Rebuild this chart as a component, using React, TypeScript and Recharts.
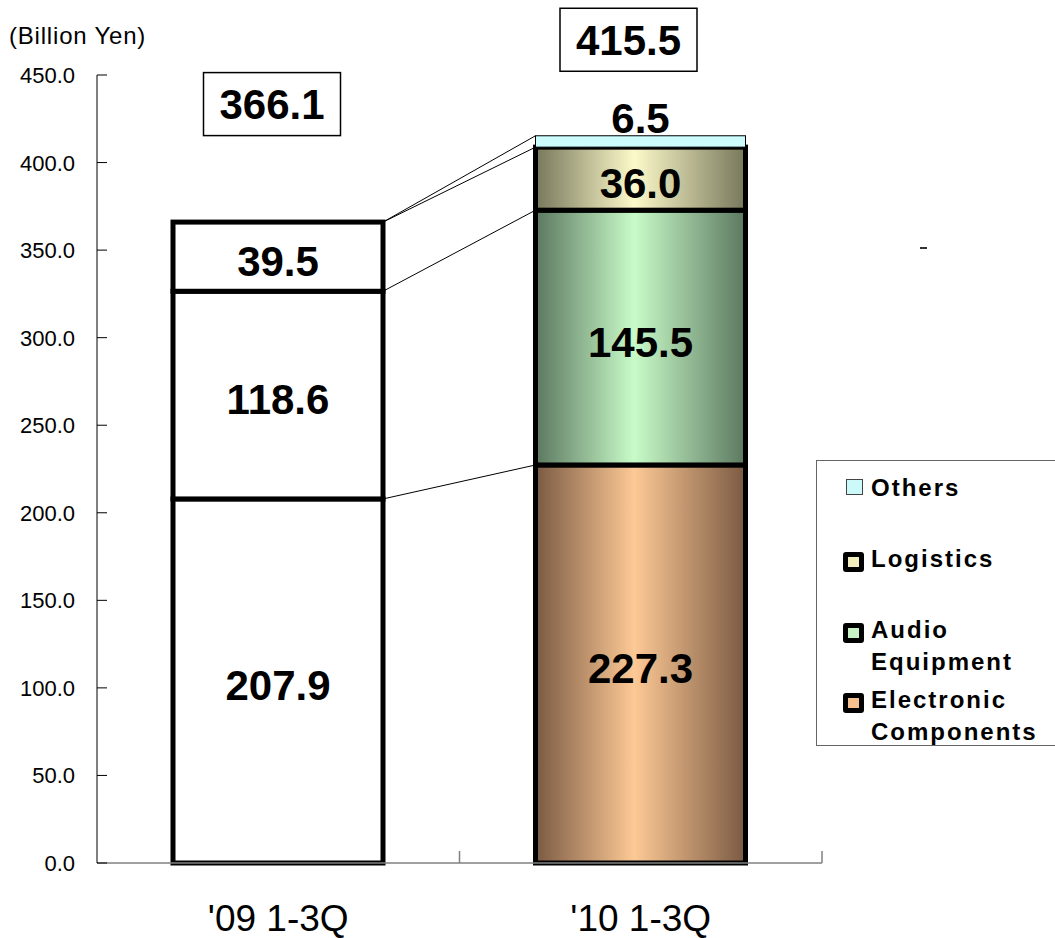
import React from 'react';
import { BarChart, Bar, XAxis, YAxis, LabelList } from 'recharts';

const categories = ["'09 1-3Q", "'10 1-3Q"];
const electronicComponents = [207.9, 227.3];
const audioEquipment = [118.6, 145.5];
const logistics = [39.5, 36.0];
const others = [0, 6.5];
const totals = [366.1, 415.5];
const yTicks = [0, 50, 100, 150, 200, 250, 300, 350, 400, 450];

const FONT = '"Liberation Sans", Arial, "Noto Sans CJK JP", sans-serif';

type SeriesDef = {
  key: string;
  lines: string[];
  values: number[];
  dark: string;
  light: string;
  legend: string;
  thick: boolean;
};

const seriesDefs: SeriesDef[] = [
  { key: 'electronic', lines: ['Electronic', 'Components'], values: electronicComponents, dark: '#7a5a43', light: '#fdc995', legend: '#f6c090', thick: true },
  { key: 'audio', lines: ['Audio', 'Equipment'], values: audioEquipment, dark: '#5c7860', light: '#c8fbc8', legend: '#c6f2c6', thick: true },
  { key: 'logistics', lines: ['Logistics'], values: logistics, dark: '#77775b', light: '#fcfaca', legend: '#f2eebe', thick: true },
  { key: 'others', lines: ['Others'], values: others, dark: '#ccfcfc', light: '#ccfcfc', legend: '#ccfafa', thick: false },
];

const data = categories.map((category, i) => {
  const row: Record<string, any> = { category };
  seriesDefs.forEach((s) => (row[s.key] = s.values[i]));
  return row;
});

let leftBarRight: number | null = null;

function makeShape(si: number) {
  return (props: any) => {
    const { x, y, width, height } = props;
    let ci = typeof props.index === 'number' ? props.index : categories.indexOf(props.payload?.category);
    if (ci < 0) ci = 0;
    if (ci === 0) leftBarRight = x + width;
    if (!(height > 0)) return <g />;
    const def = seriesDefs[si];
    if (ci === 0) {
      return <rect x={x} y={y} width={width} height={height} fill="#ffffff" stroke="#000" strokeWidth={5} />;
    }
    const v = def.values[ci];
    const ppu = height / v;
    let low = 0;
    for (let k = 0; k < si; k++) low += seriesDefs[k].values[ci];
    const baseline = y + height + low * ppu;
    let cumLeft = 0;
    for (let k = 0; k <= si; k++) cumLeft += seriesDefs[k].values[0];
    const yLeft = baseline - cumLeft * ppu;
    const xLeft = leftBarRight ?? x - width * 0.7;
    return (
      <g>
        <line x1={xLeft} y1={yLeft} x2={x} y2={y} stroke="#000" strokeWidth={1} />
        <rect
          x={x}
          y={y}
          width={width}
          height={height}
          fill={def.thick ? `url(#grad-${def.key})` : def.light}
          stroke="#000"
          strokeWidth={def.thick ? 5 : 1}
        />
      </g>
    );
  };
}

function makeValueLabel(si: number) {
  return (props: any) => {
    const { x, y, width, height, index } = props;
    const def = seriesDefs[si];
    const v = def.values[index];
    if (!v) return null;
    const cx = x + width / 2;
    const ty = def.key === 'others' ? y - 3 : y + height / 2 + 19;
    return (
      <text x={cx} y={ty} textAnchor="middle" fontFamily={FONT} fontWeight="bold" fontSize={42} fill="#000">
        {v.toFixed(1)}
      </text>
    );
  };
}

const TOTAL_OFFSET = [118, 96];
const TOTAL_SHIFT = [-6, -12];

const TotalLabel = (props: any) => {
  const { x, y, width, height, index } = props;
  const v = logistics[index];
  if (!v) return null;
  const ppu = height / v;
  const top = y - others[index] * ppu;
  const cx = x + width / 2 + TOTAL_SHIFT[index];
  const cy = top - TOTAL_OFFSET[index];
  const bw = 137;
  const bh = 63;
  return (
    <g>
      <rect x={cx - bw / 2} y={cy - bh / 2} width={bw} height={bh} fill="#fff" stroke="#000" strokeWidth={1.5} />
      <text x={cx} y={cy + 15} textAnchor="middle" fontFamily={FONT} fontWeight="bold" fontSize={42} fill="#000">
        {totals[index].toFixed(1)}
      </text>
    </g>
  );
};

const YTick = (props: any) => {
  const { x, y, payload } = props;
  return (
    <g>
      <text x={x} y={y} dy={8} textAnchor="end" fontFamily={FONT} fontSize={22} fill="#000">
        {Number(payload.value).toFixed(1)}
      </text>
      <line x1={x + 22} x2={x + 32} y1={y} y2={y} stroke="#000" strokeWidth={1} />
    </g>
  );
};

const XTick = (props: any) => {
  const { x, y, payload } = props;
  const half = payload?.offset;
  return (
    <g>
      <text x={x} y={y + 62} textAnchor="middle" fontFamily={FONT} fontSize={37} fill="#000">
        {payload.value}
      </text>
      {half ? <line x1={x + half} x2={x + half} y1={y - 6} y2={y - 18} stroke="#808080" strokeWidth={1.5} /> : null}
    </g>
  );
};

const legendOrder = [...seriesDefs].reverse();
const legendRowTops = [11, 82, 153, 223];

export default function App() {
  return (
    <div style={{ position: 'absolute', left: 0, top: 0, width: 1055, height: 938, background: '#fff' }}>
      <div
        style={{
          position: 'absolute',
          left: 9,
          top: 22,
          fontFamily: FONT,
          fontSize: 24,
          letterSpacing: 0.8,
          color: '#000',
          whiteSpace: 'nowrap',
        }}
      >
        (Billion Yen)
      </div>
      <BarChart
        width={1055}
        height={938}
        data={data}
        margin={{ top: 75, right: 233, bottom: 0, left: 0 }}
      >
        <defs>
          {seriesDefs
            .filter((s) => s.thick)
            .map((s) => (
              <linearGradient key={s.key} id={`grad-${s.key}`} x1="0" y1="0" x2="1" y2="0">
                <stop offset="0%" stopColor={s.dark} />
                <stop offset="47%" stopColor={s.light} />
                <stop offset="100%" stopColor={s.dark} />
              </linearGradient>
            ))}
        </defs>
        <XAxis
          dataKey="category"
          height={75}
          axisLine={{ stroke: '#808080', strokeWidth: 1.5 }}
          tickLine={false}
          tickSize={6}
          tickMargin={0}
          tick={<XTick />}
          interval={0}
        />
        <YAxis
          width={97}
          domain={[0, 450]}
          ticks={yTicks}
          interval={0}
          axisLine={{ stroke: '#000', strokeWidth: 1 }}
          tickLine={false}
          tickSize={6}
          tickMargin={16}
          tick={<YTick />}
        />
        {seriesDefs.map((s, si) => (
          <Bar
            key={s.key}
            dataKey={s.key}
            stackId="a"
            barSize={210}
            isAnimationActive={false}
            shape={makeShape(si)}
          >
            <LabelList dataKey={s.key} content={makeValueLabel(si)} />
            {s.key === 'logistics' ? <LabelList dataKey={s.key} content={<TotalLabel />} /> : null}
          </Bar>
        ))}
      </BarChart>
      <div
        style={{
          position: 'absolute',
          left: 920,
          top: 247,
          width: 7,
          height: 2,
          background: '#333',
        }}
      />
      <div
        style={{
          position: 'absolute',
          left: 816,
          top: 460,
          width: 245,
          height: 286,
          border: '1px solid #666',
          boxSizing: 'border-box',
          fontFamily: FONT,
          fontWeight: 'bold',
          fontSize: 24,
          letterSpacing: 2,
          color: '#000',
        }}
      >
        {legendOrder.map((s, i) => (
          <div key={s.key} style={{ position: 'absolute', left: 0, top: legendRowTops[i], width: '100%' }}>
            <div
              style={{
                position: 'absolute',
                left: s.thick ? 26 : 29,
                top: s.thick ? 9 : 7,
                width: s.thick ? 21 : 17,
                height: s.thick ? 20 : 16,
                boxSizing: 'border-box',
                background: s.legend,
                border: s.thick ? '5px solid #000' : '1px solid #444',
                borderRadius: s.thick ? 3 : 0,
              }}
            />
            <div style={{ position: 'absolute', left: 54, top: 0, lineHeight: '32px', whiteSpace: 'nowrap' }}>
              {s.lines.map((l) => (
                <div key={l}>{l}</div>
              ))}
            </div>
          </div>
        ))}
      </div>
    </div>
  );
}
